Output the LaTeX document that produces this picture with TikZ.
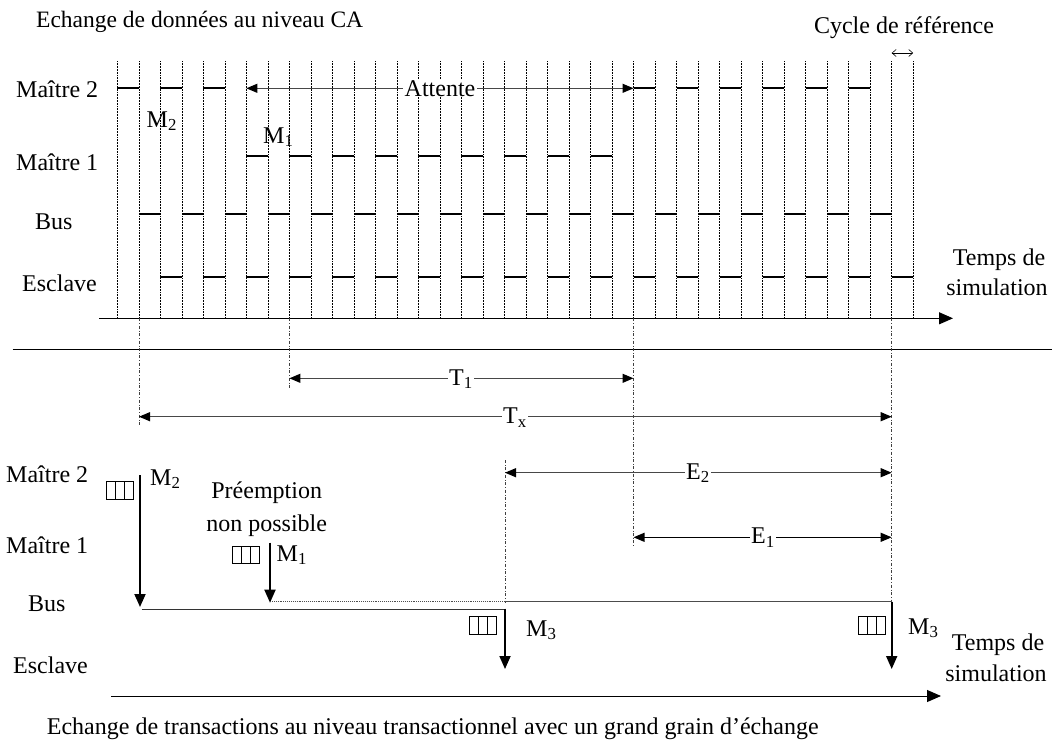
\documentclass[tikz,border=0pt]{standalone}
\usepackage{fontspec}
\setmainfont{Liberation Serif}
\usetikzlibrary{arrows.meta}
\begin{document}
\begin{tikzpicture}[x=1pt,y=-1pt,
  lbl/.style={font=\fontsize{24}{28}\selectfont, inner sep=0pt},
  dimarrow/.style={{Triangle[length=11pt,width=9pt,color=black]}-{Triangle[length=11pt,width=9pt,color=black]}, line width=1.1pt, draw=black!72},
  dimlbl/.style={lbl, fill=white, inner xsep=1.5pt, inner ysep=1pt, anchor=base},
  gridline/.style={densely dotted, line width=0.55pt},
  sig/.style={line width=1.8pt},
  guide/.style={dash dot, line width=0.6pt, draw=black!75},
  downarrow/.style={-{Triangle[length=13pt,width=11pt]}, line width=1.8pt},
  axisarrow/.style={-{Triangle[length=14pt,width=12pt]}, line width=1pt},
  busline/.style={line width=1pt, draw=black!80},
  msgq/.pic={\draw[line width=0.8pt] (0,0) rectangle (26.7,17.6);
             \draw[line width=0.8pt] (8.9,0) -- (8.9,17.6) (17.8,0) -- (17.8,17.6);}
]
\useasboundingbox (0,0) rectangle (1056,742);

% ---------- upper part: cycle accurate ----------
\node[lbl, font=\fontsize{23.5}{27}\selectfont, anchor=base west] (title) at (36,27) {Echange de données au niveau CA};
\node[lbl, anchor=base] (cycle) at (904,33) {Cycle de référence};
\coordinate (cycA) at ({117.3+21.51*36},53);
\coordinate (cycB) at ({117.3+21.51*37},53);
\draw[{Straight Barb[length=4pt,width=7pt]}-{Straight Barb[length=4pt,width=7pt]}, line width=0.6pt] (cycA) -- (cycB);

\foreach \k in {0,...,37}
  \draw[gridline] ({117.3+21.51*\k},61) -- ({117.3+21.51*\k},318);

\foreach \k in {0,2,4,24,26,28,30,32,34}
  \draw[sig] ({117.3+21.51*\k},88.3) -- ({117.3+21.51*(\k+1)},88.3);
\foreach \k in {6,8,...,22}
  \draw[sig] ({117.3+21.51*\k},155.8) -- ({117.3+21.51*(\k+1)},155.8);
\foreach \k in {1,3,...,35}
  \draw[sig] ({117.3+21.51*\k},214.3) -- ({117.3+21.51*(\k+1)},214.3);
\foreach \k in {2,4,...,36}
  \draw[sig] ({117.3+21.51*\k},277.3) -- ({117.3+21.51*(\k+1)},277.3);

\node[lbl, anchor=base west] (um2) at (16,97) {Maître 2};
\node[lbl, anchor=base west] (um1) at (16,170) {Maître 1};
\node[lbl, anchor=base west] (ubus) at (35,229) {Bus};
\node[lbl, anchor=base west] (uesc) at (22,291) {Esclave};

\node[lbl, anchor=base west] (uM2) at (146.5,127) {M\textsubscript{2}};
\node[lbl, anchor=base west] (uM1) at (263,143) {M\textsubscript{1}};

\coordinate (attL) at ({117.3+21.51*6},88.3);
\coordinate (attR) at ({117.3+21.51*24},88.3);
\draw[dimarrow] (attL) -- (attR);
\node[dimlbl] (att) at (440,96) {Attente};

\coordinate (ax1s) at (99,318.3);
\coordinate (ax1e) at (953,318.3);
\draw[axisarrow] (ax1s) -- (ax1e);
\node[lbl, anchor=base] (ut1) at (999,265) {Temps de};
\node[lbl, anchor=base] (ut2) at (997,295) {simulation};

% separator
\coordinate (sepL) at (12.7,349.5);
\coordinate (sepR) at (1052,349.5);
\draw[line width=1pt] (sepL) -- (sepR);

% ---------- guides ----------
\coordinate (g1) at (139,318.3);
\coordinate (g8) at (289.4,318.3);
\coordinate (g24) at (633.5,318.3);
\coordinate (g36) at (891.7,318.3);
\draw[guide] (g1) -- (139,425);
\draw[guide] (g8) -- (289.4,388);
\draw[guide] (g24) -- (633.5,547);
\draw[guide] (g36) -- (891.7,602);
\draw[guide] (505,460) -- (505,603);

% dimension arrows
\coordinate (t1L) at (289.4,378.3);
\coordinate (t1R) at (633.5,378.3);
\draw[dimarrow] (t1L) -- (t1R);
\node[dimlbl] (t1) at (461,385) {T\textsubscript{1}};

\coordinate (txL) at (139,416.7);
\coordinate (txR) at (891.7,416.7);
\draw[dimarrow] (txL) -- (txR);
\node[dimlbl] (tx) at (515,423.5) {T\textsubscript{x}};

\coordinate (e2L) at (505,472.7);
\coordinate (e2R) at (891.7,472.7);
\draw[dimarrow] (e2L) -- (e2R);
\node[dimlbl] (e2) at (698,479) {E\textsubscript{2}};

\coordinate (e1L) at (633.5,537.3);
\coordinate (e1R) at (891.7,537.3);
\draw[dimarrow, draw=black] (e1L) -- (e1R);
\node[dimlbl] (e1) at (763,543.5) {E\textsubscript{1}};

% ---------- lower part: transactional ----------
\node[lbl, anchor=base west] (lm2) at (6,482) {Maître 2};
\node[lbl, anchor=base west] (lm1) at (6,553) {Maître 1};
\node[lbl, anchor=base west] (lbus) at (28,611) {Bus};
\node[lbl, anchor=base west] (lesc) at (13,673) {Esclave};

\coordinate (m2s) at (140,475);
\coordinate (m2e) at (140,607);
\draw[downarrow] (m2s) -- (m2e);
\pic at (106.7,481.7) {msgq};
\node[lbl, anchor=base west] (lM2) at (150,485) {M\textsubscript{2}};

\node[lbl, anchor=base] (pre1) at (266.7,498) {Préemption};
\node[lbl, anchor=base] (pre2) at (266.7,531) {non possible};

\coordinate (m1s) at (270,542.7);
\coordinate (m1e) at (270,602.7);
\draw[downarrow] (m1s) -- (m1e);
\pic at (232.7,546) {msgq};
\node[lbl, anchor=base west] (lM1) at (276.5,561) {M\textsubscript{1}};

\coordinate (busA) at (141.7,609.3);
\coordinate (busB) at (505,609.3);
\draw[busline] (busA) -- (busB);
\coordinate (busC) at (270,601.7);
\coordinate (busD) at (505,601.7);
\draw[densely dotted, line width=0.9pt, draw=black!70] (busC) -- (busD);
\coordinate (busE) at (891.7,601.7);
\draw[busline, draw=black!70] (busD) -- (busE);

\coordinate (m3as) at (505,608.5);
\coordinate (m3ae) at (505,669);
\draw[downarrow] (m3as) -- (m3ae);
\pic at (469.3,616.7) {msgq};
\node[lbl, anchor=base west] (lM3a) at (526,636) {M\textsubscript{3}};

\coordinate (m3bs) at (891.7,601.7);
\coordinate (m3be) at (891.7,669);
\draw[downarrow] (m3bs) -- (m3be);
\pic at (858.3,616.7) {msgq};
\node[lbl, anchor=base west] (lM3b) at (908,634) {M\textsubscript{3}};

\node[lbl, anchor=base] (lt1) at (998,650) {Temps de};
\node[lbl, anchor=base] (lt2) at (996,681) {simulation};

\coordinate (ax2s) at (111,696);
\coordinate (ax2e) at (941,696);
\draw[axisarrow] (ax2s) -- (ax2e);

\node[lbl, anchor=base west] (caption) at (46.7,734) {Echange de transactions au niveau transactionnel avec un grand grain d’échange};
\end{tikzpicture}
\end{document}
